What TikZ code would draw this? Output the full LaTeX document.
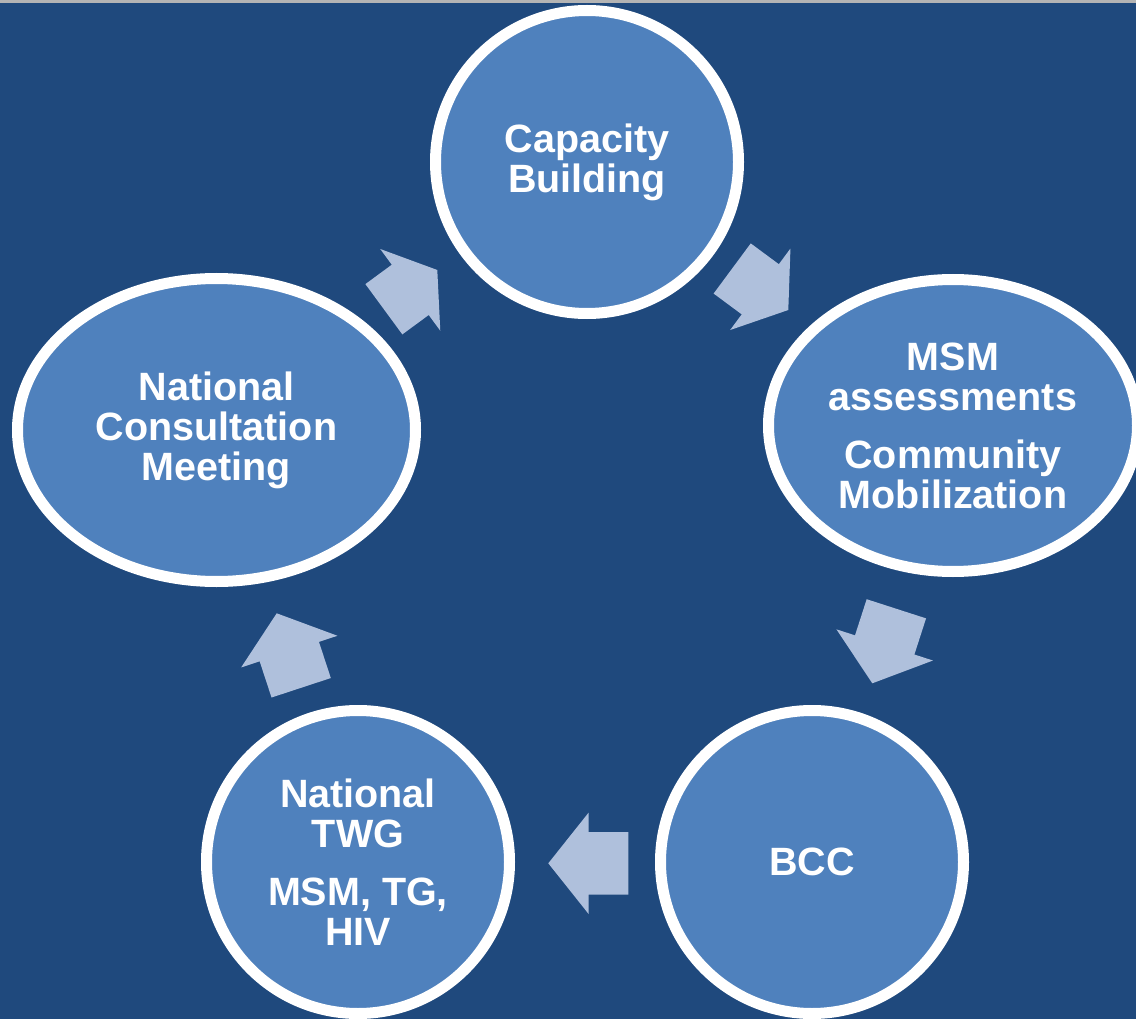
\documentclass[tikz,border=0pt]{standalone}
\usepackage{fontspec}
\setmainfont{Liberation Sans}
\usetikzlibrary{shapes.geometric, shapes.arrows}

\definecolor{slidebg}{HTML}{1F497D}
\definecolor{bubblefill}{HTML}{4F81BD}
\definecolor{arrowfill}{RGB}{175,192,220}
\definecolor{topstrip}{RGB}{180,180,180}

\tikzset{
  bubble/.style={draw=white, line width=11pt, fill=bubblefill, text=white,
    align=center, inner sep=0pt, font=\fontsize{39.5}{40}\selectfont\bfseries},
  round bubble/.style={bubble, circle, minimum size=303pt},
  oval bubble/.style={bubble, ellipse},
  cyclearrow/.style={single arrow, fill=arrowfill, draw=none, inner xsep=0pt,
    inner ysep=31pt, outer sep=0pt, minimum width=0pt, single arrow head extend=19.5pt,
    single arrow tip angle=103, minimum height=79pt, anchor=tip},
}

\begin{document}
\begin{tikzpicture}[x=1pt, y=-1pt]
  \clip (0,0) rectangle (1136,1019);
  \fill[slidebg] (0,0) rectangle (1136,1019);
  \fill[topstrip] (0,0) rectangle (1136,2.7);

  % the five steps of the cycle
  \node[round bubble] (capacity) at (587,162) {Capacity\\Building};
  \node[oval bubble, minimum width=369pt, minimum height=292pt] (msm) at (953,425.5)
    {MSM\\assessments\\[18pt]Community\\Mobilization};
  \node[round bubble] (bcc) at (812,862) {BCC};
  \node[round bubble] (twg) at (358,862) {National\\TWG\\[18pt]MSM, TG,\\HIV};
  \node[oval bubble, minimum width=398pt, minimum height=303pt] (consult) at (216.5,430)
    {National\\Consultation\\Meeting};

  % block arrows between the steps
  \node[cyclearrow, rotate=36.3, minimum height=66.3pt, single arrow tip angle=113] (ar1) at (437.3,270) {};
  \node[cyclearrow, rotate=-36.5, minimum height=69.8pt, single arrow tip angle=111] (ar2) at (788.3,310) {};
  \node[cyclearrow, rotate=-107.9, minimum height=78.3pt] (ar3) at (872.3,683.3) {};
  \node[cyclearrow, rotate=180, minimum height=80pt] (ar4) at (548.3,863.3) {};
  \node[cyclearrow, rotate=108.2, minimum height=78.4pt] (ar5) at (276.7,613.3) {};
\end{tikzpicture}
\end{document}
